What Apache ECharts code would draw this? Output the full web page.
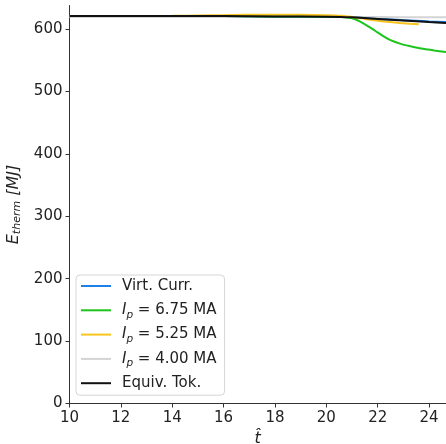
<!DOCTYPE html>
<html>
<head>
<meta charset="utf-8">
<script src="https://cdn.jsdelivr.net/npm/echarts@6/dist/echarts.min.js"></script>
<style>
  html, body { margin: 0; padding: 0; background: #fff; }
  #chart { width: 446px; height: 444px; }
</style>
</head>
<body>
<div id="chart"></div>
<script>
// Thermal energy traces versus normalized time
const seriesNames = ['Virt. Curr.', 'Ip = 6.75 MA', 'Ip = 5.25 MA', 'Ip = 4.00 MA', 'Equiv. Tok.'];
const seriesColors = ['#1e7fe6', '#1cc41c', '#f7c51e', '#d4d4d4', '#111111'];

const tVirt = [10, 12, 14, 16, 18, 20, 21, 21.5, 22, 22.5, 23, 23.5, 24, 24.66];
const eVirt = [620.5, 620.5, 620.5, 620.5, 620, 619.5, 619, 617.5, 616, 615, 614, 613, 612, 611];

const tIp675 = [10, 12, 14, 16, 18, 20, 20.6, 21.0, 21.3, 21.6, 21.9, 22.2, 22.5, 22.9, 23.3, 23.7, 24.2, 24.66];
const eIp675 = [620.5, 620.5, 620.5, 620.5, 620, 619.5, 619, 617, 612, 605, 597, 589, 582, 576, 572, 568.5, 565.5, 563];

const tIp525 = [10, 12, 14, 15, 16, 17, 18, 19, 20, 20.6, 21.0, 21.5, 22, 22.5, 23, 23.6];
const eIp525 = [620.5, 620.5, 621, 621.5, 622, 622.5, 622.5, 622.5, 622, 621, 619, 616, 613, 611, 609, 607.5];

const tIp400 = [10, 12, 14, 16, 18, 20, 22, 24, 24.66];
const eIp400 = [619, 619, 619, 619, 619, 619, 619, 618.5, 618.5];

const tEquiv = [10, 12, 14, 16, 18, 20, 21, 22, 23, 24, 24.66];
const eEquiv = [620.5, 620.5, 620.5, 620.5, 620, 619.5, 618.5, 616, 613.5, 611, 609.5];

const xTicks = [10, 12, 14, 16, 18, 20, 22, 24];
const yTicks = [0, 100, 200, 300, 400, 500, 600];

const xs = [tVirt, tIp675, tIp525, tIp400, tEquiv];
const ys = [eVirt, eIp675, eIp525, eIp400, eEquiv];
const zOrder = [2, 2, 2, 1, 3];

const FONT = 'DejaVu Sans';

const chart = echarts.init(document.getElementById('chart'), null, { renderer: 'canvas' });

const legendLabel = function (name) {
  if (name.indexOf('Ip = ') === 0) {
    return '{i|I}{s|p}{n| = ' + name.slice(5) + '}';
  }
  return '{n|' + name + '}';
};

chart.setOption({
  animation: false,
  backgroundColor: '#ffffff',
  grid: { left: 69.5, right: 0, top: 5.5, bottom: 40.5, containLabel: false, outerBoundsMode: 'none' },
  legend: {
    orient: 'vertical',
    left: 76,
    top: 275,
    padding: [1, 8, 2, 5],
    itemGap: 4.3,
    itemWidth: 30,
    itemHeight: 2,
    icon: 'rect',
    borderColor: '#d6d6d6',
    borderWidth: 1,
    borderRadius: 4,
    backgroundColor: 'rgba(255,255,255,0.85)',
    data: seriesNames,
    formatter: legendLabel,
    textStyle: {
      fontFamily: FONT,
      fontSize: 15,
      lineHeight: 20,
      color: '#222',
      padding: [0, 0, 0, 6],
      rich: {
        n: { fontFamily: FONT, fontSize: 15, color: '#222', lineHeight: 20 },
        i: { fontFamily: FONT, fontSize: 15, fontStyle: 'italic', color: '#222', lineHeight: 20 },
        s: { fontFamily: FONT, fontSize: 10.5, fontStyle: 'italic', color: '#222', lineHeight: 20, verticalAlign: 'bottom', padding: [6, 0, 0, 0] }
      }
    }
  },
  xAxis: [{
    type: 'value',
    min: 10,
    max: 24.66,
    interval: 2,
    name: 't\u0302',
    nameLocation: 'middle',
    nameGap: 24,
    nameTextStyle: { fontFamily: FONT, fontSize: 16, fontStyle: 'italic', color: '#222' },
    axisLine: { show: true, onZero: false, lineStyle: { color: '#333', width: 1 } },
    axisTick: { show: true, inside: false, length: 4, lineStyle: { color: '#333' }, customValues: xTicks },
    axisLabel: {
      fontFamily: FONT, fontSize: 15, color: '#222', margin: 7,
      customValues: xTicks
    },
    splitLine: { show: false }
  }, {
    type: 'value',
    position: 'top',
    min: 10,
    max: 24.66,
    axisLine: { show: true, lineStyle: { color: '#333', width: 1 } },
    axisTick: { show: false },
    axisLabel: { show: false },
    splitLine: { show: false }
  }],
  yAxis: {
    type: 'value',
    min: 0,
    max: 637.5,
    interval: 100,
    name: '{e|E}{s|therm}{n| [MJ]}',
    nameLocation: 'middle',
    nameRotate: 90,
    nameGap: 41,
    nameTextStyle: {
      fontFamily: FONT, fontSize: 16, color: '#222',
      rich: {
        e: { fontFamily: FONT, fontSize: 16, fontStyle: 'italic', color: '#222', lineHeight: 18 },
        s: { fontFamily: FONT, fontSize: 11, fontStyle: 'italic', color: '#222', lineHeight: 18, verticalAlign: 'bottom', padding: [6, 0, 0, 0] },
        n: { fontFamily: FONT, fontSize: 16, fontStyle: 'italic', color: '#222', lineHeight: 18 }
      }
    },
    axisLine: { show: true, lineStyle: { color: '#333', width: 1 } },
    axisTick: { show: true, inside: false, length: 4, lineStyle: { color: '#333' }, customValues: yTicks },
    axisLabel: {
      fontFamily: FONT, fontSize: 15, color: '#222', margin: 7,
      customValues: yTicks
    },
    splitLine: { show: false }
  },
  series: seriesNames.map(function (name, k) {
    return {
      name: name,
      type: 'line',
      xAxisIndex: 0,
      showSymbol: false,
      smooth: 0.3,
      z: zOrder[k],
      clip: true,
      color: seriesColors[k],
      lineStyle: { color: seriesColors[k], width: 2 },
      data: xs[k].map(function (t, i) { return [t, ys[k][i]]; })
    };
  })
});
</script>
</body>
</html>
